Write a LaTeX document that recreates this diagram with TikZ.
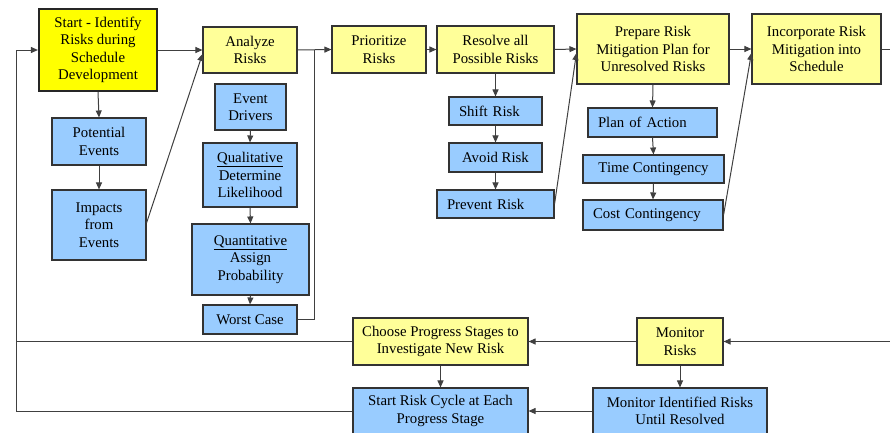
\documentclass[tikz,border=0pt]{standalone}
\usepackage{fontspec}
\setmainfont{Liberation Serif}
\usetikzlibrary{arrows.meta,calc}
\definecolor{startyellow}{HTML}{FFFF00}
\definecolor{lightyellow}{HTML}{FFFF99}
\definecolor{lightblue}{HTML}{99CCFF}
\definecolor{edgegray}{HTML}{333333}
\definecolor{linegray}{HTML}{404040}
\begin{document}
\begin{tikzpicture}[x=1pt,y=-1pt,
  box/.style={draw=edgegray, line width=1.1pt, inner sep=0pt, align=center,
    font=\fontsize{14.8}{17.5}\selectfont, text=black},
  ybox/.style={box, fill=lightyellow},
  bbox/.style={box, fill=lightblue},
  sbox/.style={box, fill=startyellow, line width=2.2pt, draw=black!85},
  sz/.style 2 args={minimum width=#1pt, minimum height=#2pt},
  padleft/.style={inner xsep=10pt, align=left, text width=#1pt},
  conn/.style={draw=linegray, line width=1pt},
  arr/.style={conn, -{Triangle[length=7pt,width=6pt]}}
]
\useasboundingbox (0,0) rectangle (890,432);

% top row
\node[sbox, sz={118}{82}] (start) at (98,50) {Start - Identify\\Risks during\\Schedule\\Development};
\node[bbox, sz={94}{47}] (pot) at (99,141.5) {Potential\\Events};
\node[bbox, sz={94}{70}] (imp) at (99,225) {Impacts\\from\\Events};

\node[ybox, sz={94}{46}] (analyze) at (250,50) {Analyze\\Risks};
\node[bbox, sz={71}{46}] (drivers) at (250.5,107) {Event\\Drivers};
\node[bbox, sz={94}{64}] (qual) at (250,175) {\underline{Qualitative}\\Determine\\Likelihood};
\node[bbox, sz={117}{71}] (quant) at (250.5,259.5) {\underline{Quantitative}\\Assign\\Probability};
\node[bbox, sz={94}{29}] (worst) at (250,319.5) {Worst Case};

\node[ybox, sz={94}{47}] (prior) at (379,49.5) {Prioritize\\Risks};
\node[ybox, sz={117}{47}] (resolve) at (495.5,49.5) {Resolve all\\Possible Risks};
\node[bbox, sz={93}{28}, padleft=73] (shift) at (495.5,111) {Shift Risk};
\node[bbox, sz={93}{29}] (avoid) at (495.5,157.5) {Avoid Risk};
\node[bbox, sz={117}{28}, padleft=97] (prevent) at (495.5,204) {Prevent Risk};

\node[ybox, sz={152}{70}] (prepare) at (653,49) {Prepare Risk\\Mitigation Plan for\\Unresolved Risks};
\node[bbox, sz={129}{29}, padleft=109] (plan) at (652.5,122.5) {Plan of Action};
\node[bbox, sz={141}{28}] (time) at (653.5,169) {Time Contingency};
\node[bbox, sz={140}{30}, padleft=120] (cost) at (653,215) {Cost Contingency};

\node[ybox, sz={129}{70}] (incorp) at (816.5,49) {Incorporate Risk\\Mitigation into\\Schedule};

% bottom rows
\node[ybox, sz={86}{47}] (monitor) at (680,341.5) {Monitor\\Risks};
\node[ybox, sz={175}{47}] (choose) at (440.5,341.5) {Choose Progress Stages to\\Investigate New Risk};
\node[bbox, sz={175}{46}] (cycle) at (440.5,411) {Start Risk Cycle at Each\\Progress Stage};
\node[bbox, sz={174}{46}] (monid) at (680,411) {Monitor Identified Risks\\Until Resolved};

% helper coordinates
\coordinate (ltop) at (16,50);
\coordinate (lmid) at (16,341.5);
\coordinate (lbot) at (16,411);
\coordinate (rtop) at (314,50);
\coordinate (eout) at (895,49);
\coordinate (ein) at (895,341.5);

% connectors
\draw[arr] (cycle.west) -- (lbot) -- (ltop) -- (start.west);
\draw[conn] (choose.west) -- (lmid);
\draw[arr] (start.south) -- (pot.north);
\draw[arr] (pot.south) -- (imp.north);
\draw[arr] ($(imp.east)+(0,-2)$) -- ($(analyze.west)+(0,4)$);
\draw[arr] (start.east) -- (analyze.west);
\draw[arr] (drivers.south) -- (qual.north);
\draw[arr] (qual.south) -- (quant.north);
\draw[arr] (quant.south) -- (worst.north);
\draw[conn] (worst.east) -| (rtop);
\draw[arr] (analyze.east) -- (prior.west);
\draw[arr] (prior.east) -- (resolve.west);
\draw[arr] (resolve.south) -- (shift.north);
\draw[arr] (shift.south) -- (avoid.north);
\draw[arr] (avoid.south) -- (prevent.north);
\draw[arr] (resolve.east) -- (prepare.west);
\draw[arr] (prevent.east) -- ($(prepare.west)+(0,4)$);
\draw[arr] (prepare.south) -- (plan.north);
\draw[arr] (plan.south) -- (time.north);
\draw[arr] (time.south) -- (cost.north);
\draw[arr] (prepare.east) -- (incorp.west);
\draw[arr] (cost.east) -- ($(incorp.west)+(0,4)$);
\draw[conn] (incorp.east) -- (eout);
\draw[arr] (ein) -- (monitor.east);
\draw[arr] (monitor.west) -- (choose.east);
\draw[arr] (monitor.south) -- (monid.north);
\draw[arr] (choose.south) -- (cycle.north);
\draw[arr] (monid.west) -- (cycle.east);
\end{tikzpicture}
\end{document}
